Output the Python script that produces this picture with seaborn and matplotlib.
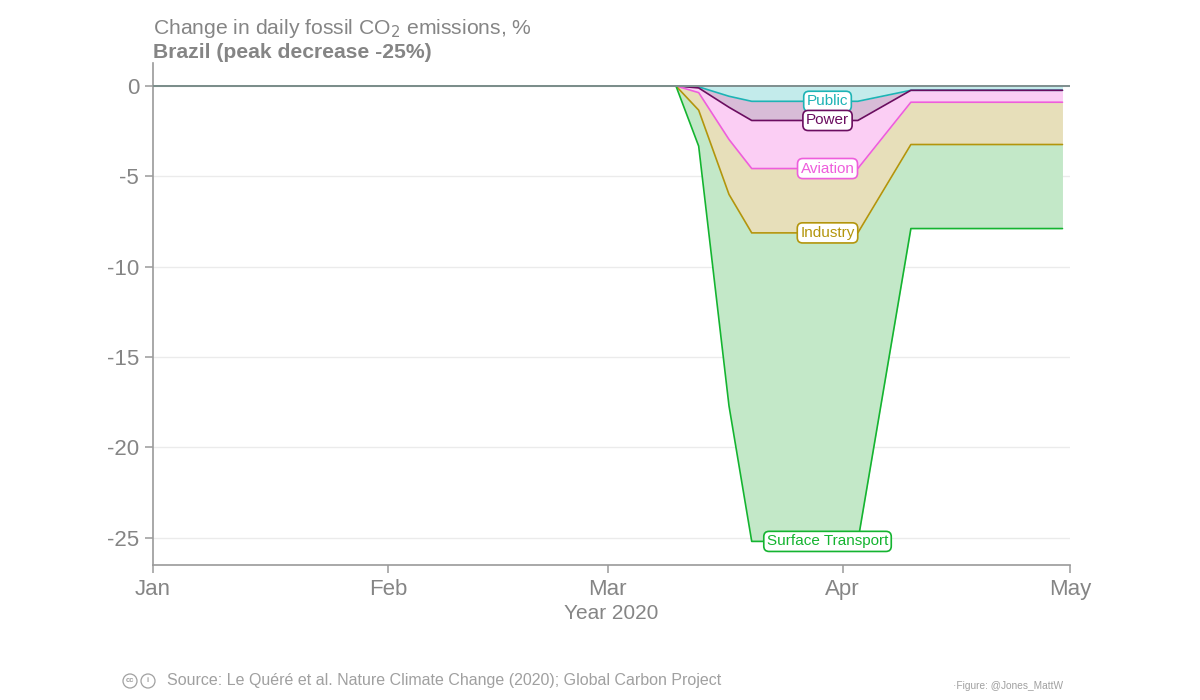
import numpy as np
import pandas as pd
import matplotlib
matplotlib.use("Agg")
import matplotlib.pyplot as plt
import matplotlib.dates as mdates
from matplotlib.patches import Ellipse
import seaborn as sns

# ---------------- data (sector contributions, % change) ----------------
dates = ["2020-01-01", "2020-03-10", "2020-03-13", "2020-03-17",
         "2020-03-20", "2020-04-03", "2020-04-10", "2020-04-30"]
sectors = ["Public", "Power", "Aviation", "Industry", "Surface Transport"]
public = [0, 0, -0.05, -0.57, -0.85, -0.85, -0.24, -0.24]
power = [0, 0, -0.06, -0.61, -1.06, -1.06, 0.0, 0.0]
aviation = [0, 0, -0.26, -1.78, -2.66, -2.66, -0.66, -0.66]
industry = [0, 0, -0.97, -3.04, -3.56, -3.56, -2.34, -2.34]
surface = [0, 0, -1.99, -11.70, -17.07, -17.07, -4.65, -4.65]
label_date = "2020-03-30"
yticks = [0, -5, -10, -15, -20, -25]
xtick_dates = ["2020-01-01", "2020-02-01", "2020-03-01", "2020-04-01", "2020-05-01"]

line_colors = ["#1DB3B5", "#6B0D60", "#EE5EDC", "#B3950C", "#14B430"]
fill_colors = ["#C3EBEB", "#D8BCD7", "#FBCEF4", "#E7DFBA", "#C3E8C8"]

df = pd.DataFrame({"date": pd.to_datetime(dates), "Public": public, "Power": power,
                   "Aviation": aviation, "Industry": industry,
                   "Surface Transport": surface})
cum = df[sectors].cumsum(axis=1)

# ---------------- style ----------------
sns.set_theme(style="white")
plt.rcParams["font.family"] = ["Liberation Sans", "DejaVu Sans"]
grey = "#858585"

fig = plt.figure(figsize=(12, 7), dpi=100)
ax = fig.add_axes([0.1275, 0.193, 0.7642, 0.717])

prev = np.zeros(len(df))
for i, s in enumerate(sectors):
    cur = cum[s].values
    ax.fill_between(df["date"], prev, cur, color=fill_colors[i], linewidth=0, zorder=1)
    prev = cur
for i, s in enumerate(sectors):
    sns.lineplot(x=df["date"], y=cum[s], color=line_colors[i], lw=1.2, ax=ax, zorder=3)

ax.axhline(0, color="#7E8E8E", lw=1.4, zorder=4)

# labels
ld = pd.Timestamp(label_date)
row = df[df["date"] <= ld].index.max()
for i, s in enumerate(sectors):
    yv = cum[s].iloc[row]
    ax.text(ld, yv, s, ha="center", va="center", fontsize=11, color=line_colors[i], zorder=6,
            bbox=dict(boxstyle="round,pad=0.2,rounding_size=0.35", fc="white",
                      ec=line_colors[i], lw=1.2))

ax.set_xlim(pd.Timestamp("2020-01-01"), pd.Timestamp("2020-05-01"))
ax.set_ylim(-26.5, 1.27)
ax.set_yticks(yticks)
ax.set_yticklabels([str(v) for v in yticks])
ax.set_xticks(pd.to_datetime(xtick_dates))
ax.xaxis.set_major_formatter(mdates.DateFormatter("%b"))
ax.grid(axis="y", color="#EBEBEB", lw=1.0, zorder=0)
ax.set_axisbelow(True)

for side in ["top", "right"]:
    ax.spines[side].set_visible(False)
for side in ["left", "bottom"]:
    ax.spines[side].set_color("#9A9A9A")
    ax.spines[side].set_linewidth(1.2)
ax.tick_params(axis="both", which="both", direction="out", length=6, width=1.1,
               color="#9A9A9A", labelcolor=grey, labelsize=16, left=True, bottom=True)
ax.tick_params(axis="x", pad=4)
ax.tick_params(axis="y", pad=4)
ax.set_xlabel("Year 2020", fontsize=15, color=grey, labelpad=3)
ax.set_ylabel("")

# titles
fig.text(0.1275, 0.959, "Change in daily fossil CO$_2$ emissions, %", fontsize=15.2,
         color=grey, ha="left", va="center")
fig.text(0.1275, 0.925, "Brazil (peak decrease -25%)", fontsize=15.2, fontweight="bold",
         color=grey, ha="left", va="center")

# footer
fig.text(167 / 1200, 1 - 681 / 700, "Source: Le Quéré et al. Nature Climate Change (2020); Global Carbon Project",
         fontsize=11.5, color="#A0A0A0", ha="left", va="center")
for cx, t in [(130, "cc"), (148, "i")]:
    fig.add_artist(Ellipse((cx / 1200, 1 - 681 / 700), 14 / 1200, 14 / 700, fill=False,
                           ec="#A0A0A0", lw=0.9, transform=fig.transFigure))
    fig.text(cx / 1200, 1 - 681 / 700, t, fontsize=5.5, color="#A0A0A0", ha="center",
             va="center", fontweight="bold")
fig.text(1063 / 1200, 1 - 686 / 700, "·Figure: @Jones_MattW", fontsize=7.3, color="#A0A0A0",
         ha="right", va="center")

fig.savefig("out.png", dpi=100, facecolor="white")
